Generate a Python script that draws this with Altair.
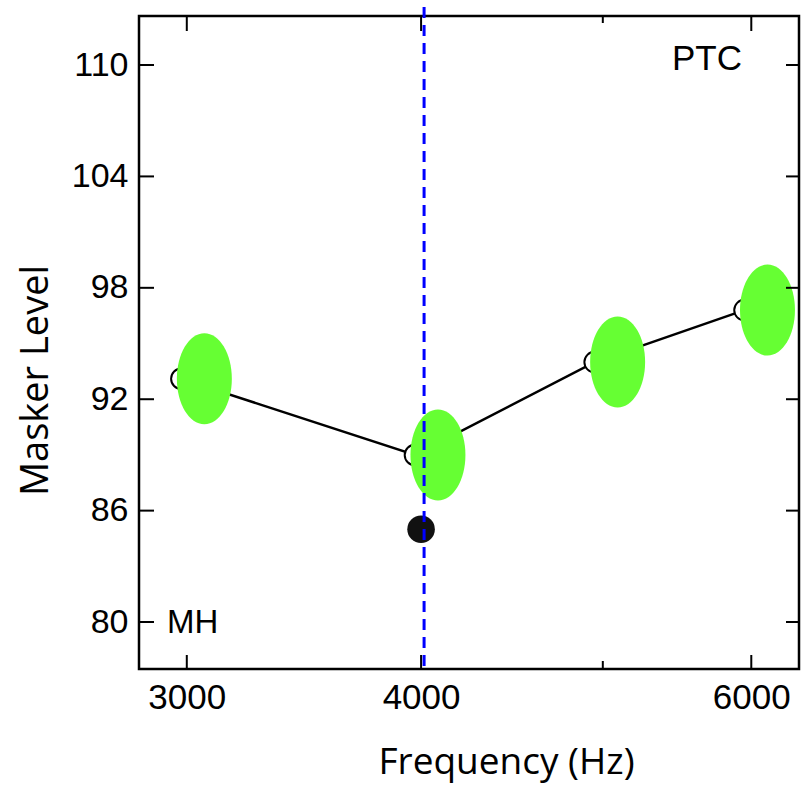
import altair as alt
import pandas as pd

# ---- data ----
freqs = [2980, 3970, 4950, 5950]          # open-circle PTC points (Hz)
levels = [93.1, 89.0, 94.0, 96.8]          # masker level
dot_freq = [4000]                          # filled point
dot_level = [85.0]
marker_freq = [4000]                       # dashed probe-frequency line
x_tick_major = [3000, 4000, 6000]
x_tick_minor = [5000]
x_labels = [3000, 4000, 6000]
y_ticks = [80, 86, 92, 98, 104, 110]
annotations_tr = ["PTC"]
annotations_bl = ["MH"]

W, H = 660, 653
x_scale = alt.Scale(type="log", domain=[2829, 6362], nice=False)
y_scale = alt.Scale(domain=[77.47, 112.64], nice=False, zero=False)

pts = pd.DataFrame({"freq": freqs, "level": levels})
dot = pd.DataFrame({"freq": dot_freq, "level": dot_level})
mk = pd.DataFrame({"freq": marker_freq})
xtm = pd.DataFrame({"freq": x_tick_major})
xtn = pd.DataFrame({"freq": x_tick_minor})
yt = pd.DataFrame({"level": y_ticks})

x_axis = alt.Axis(
    values=x_labels, format="d", labelFont="Liberation Sans", labelFontSize=35,
    labelColor="black", labelPadding=11, ticks=False, tickSize=0, domain=False,
    grid=False, labelFlush=False, labelOverlap=False,
    title="Frequency (Hz)", titleFont="Open Sans", titleFontSize=37,
    titleFontWeight="normal", titleColor="black", titleX=367, titleY=104,
    titleBaseline="alphabetic", titleAlign="center",
)
y_axis = alt.Axis(
    values=y_ticks, labelFont="Liberation Sans", labelFontSize=34,
    labelColor="black", labelPadding=11, ticks=False, tickSize=0, domain=False,
    grid=False, labelOverlap=False,
    title="Masker Level", titleFont="Open Sans", titleFontSize=38,
    titleFontWeight="normal", titleColor="black", titleAngle=270,
    titleX=-92, titleY=364, titleAlign="center", titleBaseline="alphabetic",
)

X = alt.X("freq:Q", scale=x_scale, axis=x_axis)
Y = alt.Y("level:Q", scale=y_scale, axis=y_axis)

line = alt.Chart(pts).mark_line(color="black", strokeWidth=2.4).encode(x=X, y=Y)

open_pts = alt.Chart(pts).mark_point(
    shape="circle", filled=True, fill="white", stroke="black",
    strokeWidth=2, size=420, opacity=1,
).encode(x=X, y=Y)

filled_pt = alt.Chart(dot).mark_point(
    shape="circle", filled=True, color="#111111", size=760, opacity=1,
).encode(x=X, y=Y)

ellipse_path = "M -0.604 0 A 0.604 1 0 1 0 0.604 0 A 0.604 1 0 1 0 -0.604 0 Z"
ellipses = alt.Chart(pts).mark_point(
    shape=ellipse_path, filled=True, color="#66ff33", size=8281,
    opacity=1, xOffset=23,
).encode(x=X, y=Y)

dashed = alt.Chart(mk).mark_rule(
    color="#0000ff", strokeWidth=3, strokeDash=[11, 7], xOffset=3,
).encode(x=X, y=alt.value(-9), y2=alt.value(H + 3))

tick_style = dict(color="black", strokeWidth=2)
bt_major = alt.Chart(xtm).mark_rule(**tick_style).encode(
    x=X, y=alt.value(H), y2=alt.value(H - 14))
tt_major = alt.Chart(xtm).mark_rule(**tick_style).encode(
    x=X, y=alt.value(0), y2=alt.value(15))
bt_minor = alt.Chart(xtn).mark_rule(**tick_style).encode(
    x=X, y=alt.value(H), y2=alt.value(H - 8))
tt_minor = alt.Chart(xtn).mark_rule(**tick_style).encode(
    x=X, y=alt.value(0), y2=alt.value(7))
lt = alt.Chart(yt).mark_rule(**tick_style).encode(
    y=Y, x=alt.value(0), x2=alt.value(15))
rt = alt.Chart(yt).mark_rule(**tick_style).encode(
    y=Y, x=alt.value(W - 13), x2=alt.value(W))

ptc = alt.Chart(pd.DataFrame({"t": annotations_tr})).mark_text(
    font="Liberation Sans", fontSize=35, color="black", align="center",
    baseline="alphabetic",
).encode(text="t:N", x=alt.value(568), y=alt.value(54))
mh = alt.Chart(pd.DataFrame({"t": annotations_bl})).mark_text(
    font="Liberation Sans", fontSize=33, color="black", align="left",
    baseline="alphabetic",
).encode(text="t:N", x=alt.value(28), y=alt.value(617))

chart = alt.layer(
    line, open_pts, filled_pt, ellipses,
    bt_major, tt_major, bt_minor, tt_minor, lt, rt,
    ptc, mh, dashed,
).properties(
    width=W, height=H,
    padding={"left": 139, "top": 16, "right": 4, "bottom": 120},
    autosize="none", background="white",
).configure_view(stroke="black", strokeWidth=2.5)

chart.save("out.html", embed_options={"renderer": "svg", "actions": False})
